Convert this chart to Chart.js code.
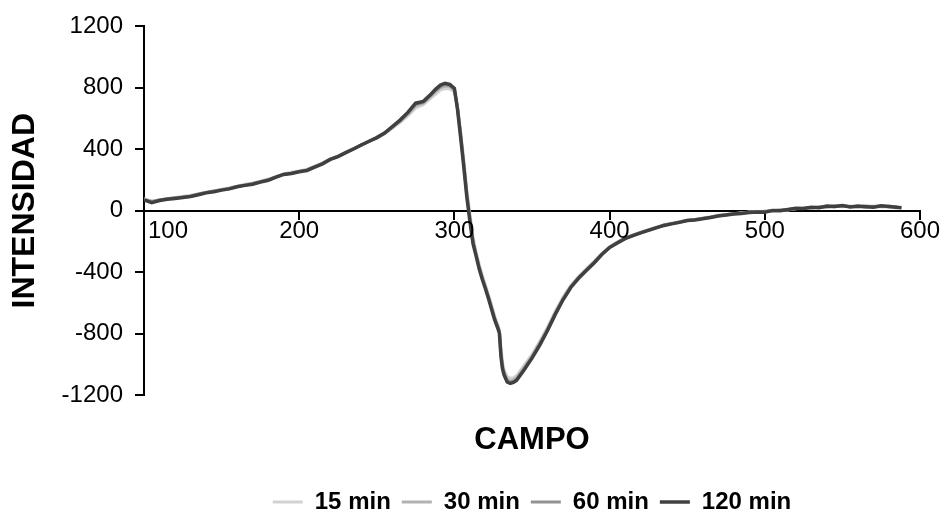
<!DOCTYPE html>
<html>
<head>
<meta charset="utf-8">
<script src="https://cdn.jsdelivr.net/npm/chart.js@4.4.1/dist/chart.umd.min.js"></script>
<style>
  html, body { margin: 0; padding: 0; background: #fff; }
  #wrap { width: 945px; height: 514px; }
</style>
</head>
<body>
<div id="wrap"><canvas id="epr"></canvas></div>
<script>
// campo (x) shared by the four series
var campo = [100,105,110,115,120,125,130,135,140,145,150,155,160,165,170,175,180,185,190,195,
  200,205,210,215,220,225,230,235,240,245,250,255,260,265,270,275,280,285,288,291,294,297,
  300,302,304,306,308,310,312,314,316,318,320,322,324,326,328,329,330,331,332,334,336,338,340,
  345,350,355,360,365,370,375,380,385,390,395,400,405,410,415,420,425,430,435,440,445,450,455,
  460,465,470,475,480,485,490,495,500,505,510,515,520,525,530,535,540,545,550,555,560,565,570,
  575,580,585,588];

var min15 = [78,64,70,80,84,92,100,108,120,130,138,150,160,172,180,192,206,222,240,250,
  258,270,290,312,338,356,380,404,426,450,472,500,536,574,618,668,690,735,760,785,795,792,
  775,680,520,340,140,-20,-170,-268,-350,-420,-485,-548,-615,-686,-742,-775,-890,-985,-1035,-1080,-1092,-1088,-1075,
  -1005,-935,-850,-758,-655,-562,-486,-428,-378,-330,-278,-234,-204,-176,-158,-140,-124,-108,-94,-82,-72,-62,-56,
  -48,-40,-32,-24,-20,-14,-10,-6,-2,-4,4,6,12,18,16,24,22,30,26,30,22,28,30,
  24,26,18,16];

var min30 = [74,60,72,76,86,90,96,110,118,128,136,146,158,168,178,190,202,220,238,246,
  256,266,288,308,336,354,380,404,428,452,474,504,542,582,628,684,700,748,776,802,812,808,
  786,672,500,316,116,-44,-190,-282,-364,-434,-496,-560,-628,-698,-754,-786,-915,-1008,-1052,-1098,-1108,-1104,-1090,
  -1020,-948,-862,-768,-664,-570,-492,-434,-384,-334,-282,-236,-206,-180,-160,-142,-126,-110,-92,-84,-74,-66,-58,
  -50,-42,-30,-26,-18,-16,-8,-10,-4,0,6,4,14,16,20,26,24,32,30,28,26,32,26,
  28,30,24,18];

var min60 = [72,58,68,78,82,88,94,106,118,126,136,144,158,166,176,188,200,218,236,244,
  256,264,286,306,334,354,378,402,428,452,476,506,546,586,634,692,706,754,784,810,822,816,
  792,666,490,302,102,-56,-202,-290,-372,-442,-502,-566,-636,-706,-760,-792,-935,-1020,-1062,-1108,-1118,-1112,-1098,
  -1028,-954,-868,-774,-670,-576,-496,-438,-386,-338,-284,-238,-208,-180,-162,-144,-126,-110,-96,-84,-74,-64,-58,
  -50,-44,-32,-28,-20,-16,-10,-6,-6,0,2,8,14,16,20,22,28,26,32,26,28,24,28,
  30,26,22,18];

var min120 = [70,52,66,74,80,86,92,104,116,124,134,142,156,165,172,186,198,218,236,242,
  254,262,284,305,334,352,378,402,428,452,476,506,548,590,640,700,712,760,792,818,830,822,
  796,660,480,290,90,-70,-214,-296,-380,-448,-508,-573,-643,-713,-766,-798,-950,-1030,-1070,-1115,-1125,-1118,-1105,
  -1035,-960,-875,-780,-675,-580,-500,-440,-390,-340,-285,-240,-210,-182,-163,-145,-128,-112,-96,-86,-76,-64,-60,
  -52,-44,-34,-28,-22,-18,-12,-8,-10,2,0,8,16,14,22,20,30,28,34,24,30,26,22,
  32,28,22,20];

var seriesNames = ['15 min', '30 min', '60 min', '120 min'];
var seriesColors = ['#d2d2d2', '#b2b2b2', '#929292', '#404040'];
var yTicks = [-1200, -800, -400, 0, 400, 800, 1200];
var xTicks = [100, 200, 300, 400, 500, 600];

function toPoints(vals) {
  return campo.map(function (c, i) { return { x: c, y: vals[i] }; });
}

Chart.defaults.font.family = '"Liberation Sans", Arial, sans-serif';
Chart.defaults.color = '#000';

// x tick labels drawn by hand so the first one can sit right of the y axis, like Excel does
var xLabels = {
  id: 'xLabels',
  afterDraw: function (chart) {
    var ctx = chart.ctx;
    var xs = chart.scales.x;
    var y0 = chart.scales.y.getPixelForValue(0);
    ctx.save();
    ctx.font = '24px "Liberation Sans", Arial, sans-serif';
    ctx.fillStyle = '#000';
    ctx.textBaseline = 'middle';
    xTicks.forEach(function (v, i) {
      var px = xs.getPixelForValue(v);
      if (i === 0) {
        ctx.textAlign = 'left';
        ctx.fillText(String(v), px + 4, y0 + 21);
      } else {
        ctx.textAlign = 'center';
        ctx.fillText(String(v), px, y0 + 21);
      }
    });
    ctx.restore();
  }
};

var sets = [min15, min30, min60, min120];
var ctx = document.getElementById('epr');
var myChart = new Chart(ctx, {
  type: 'line',
  data: {
    datasets: sets.map(function (vals, i) {
      return {
        label: seriesNames[i],
        data: toPoints(vals),
        borderColor: seriesColors[i],
        backgroundColor: seriesColors[i],
        borderWidth: i === 3 ? 3.5 : 3,
        pointRadius: 0,
        pointStyle: 'line',
        tension: 0,
        order: 4 - i
      };
    })
  },
  options: {
    responsive: true,
    maintainAspectRatio: false,
    animation: false,
    layout: { padding: { top: 25, right: 25, bottom: -10, left: 0 } },
    scales: {
      x: {
        type: 'linear',
        position: { y: 0 },
        min: 100,
        max: 600,
        afterBuildTicks: function (scale) {
          scale.ticks = xTicks.map(function (v) { return { value: v }; });
        },
        ticks: { display: false },
        grid: { drawOnChartArea: false, drawTicks: true, tickLength: 8, color: '#000', lineWidth: 2 },
        border: { display: true, color: '#000', width: 2 }
      },
      y: {
        type: 'linear',
        min: -1200,
        max: 1200,
        afterBuildTicks: function (scale) {
          scale.ticks = yTicks.map(function (v) { return { value: v }; });
        },
        afterFit: function (scale) { scale.width = 144; },
        ticks: {
          font: { size: 24 },
          color: '#000',
          padding: 12,
          callback: function (v) { return String(v); }
        },
        grid: { drawOnChartArea: false, drawTicks: true, tickLength: 9, color: '#000', lineWidth: 2 },
        border: { display: true, color: '#000', width: 2 },
        title: {
          display: true,
          text: 'INTENSIDAD',
          font: { size: 32, weight: 'bold' },
          color: '#000',
          padding: { top: 6, bottom: 0 }
        }
      }
    },
    plugins: {
      title: {
        display: true,
        text: 'CAMPO',
        position: 'bottom',
        fullSize: false,
        weight: 500,
        font: { size: 31, weight: 'bold' },
        color: '#000',
        padding: { top: 26.4, bottom: 20.4 }
      },
      legend: {
        position: 'bottom',
        fullSize: false,
        reverse: true,
        labels: {
          usePointStyle: true,
          pointStyle: 'line',
          pointStyleWidth: 30,
          boxHeight: 3,
          padding: 11,
          color: '#000',
          font: { size: 24, weight: 'bold' }
        }
      },
      tooltip: { enabled: false }
    }
  },
  plugins: [xLabels]
});
</script>
</body>
</html>
